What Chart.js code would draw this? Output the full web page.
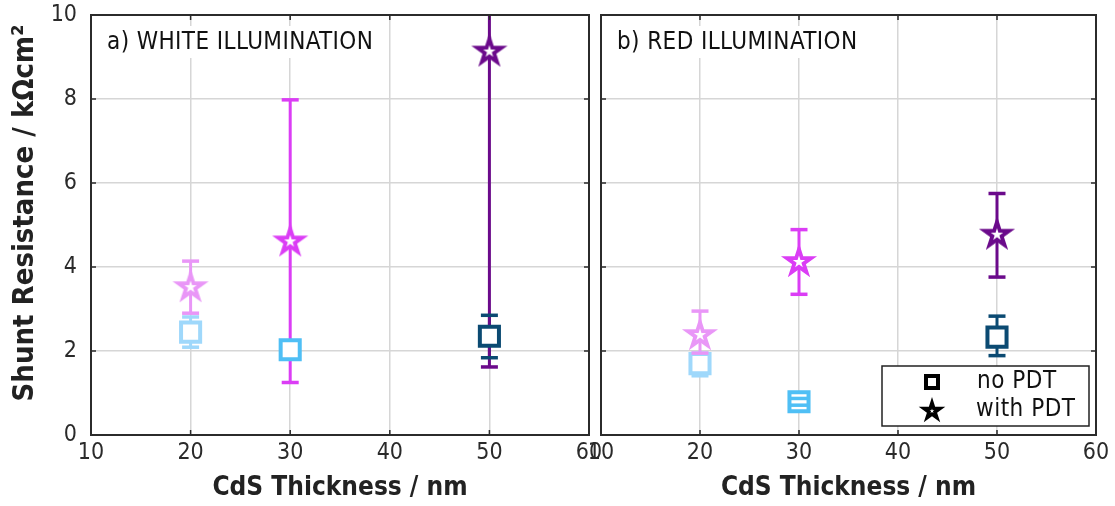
<!DOCTYPE html>
<html>
<head>
<meta charset="utf-8">
<script src="https://cdn.jsdelivr.net/npm/chart.js@4.4.0/dist/chart.umd.min.js"></script>
<style>
body { margin: 0; background: #fff; }
#wrap { position: relative; width: 1115px; height: 506px; overflow: hidden; }
#chartA { position: absolute; left: 0; top: -4px; }
#chartB { position: absolute; left: 580px; top: -4px; }
</style>
</head>
<body>
<div id="wrap">
<canvas id="chartA" width="610" height="510"></canvas>
<canvas id="chartB" width="535" height="510"></canvas>
</div>
<script>
// CdS thickness (nm) for the three samples
var thickness = [20, 30, 50];
var xTicks = [10, 20, 30, 40, 50, 60];
var yTicks = [0, 2, 4, 6, 8, 10];

// a) white illumination
var whiteNoPdt = [2.45, 2.03, 2.35];
var whiteNoPdtLow = [2.09, null, 1.84];
var whiteNoPdtHigh = [2.81, null, 2.85];
var whitePdt = [3.52, 4.61, 9.13];
var whitePdtLow = [2.90, 1.25, 1.62];
var whitePdtHigh = [4.14, 7.98, 12.0];

// b) red illumination
var redNoPdt = [1.70, 0.79, 2.33];
var redNoPdtLow = [1.41, 0.71, 1.89];
var redNoPdtHigh = [1.95, 0.87, 2.83];
var redPdt = [2.38, 4.12, 4.77];
var redPdtLow = [1.95, 3.35, 3.76];
var redPdtHigh = [2.95, 4.89, 5.75];

var squareColors = ["#9fd8fb", "#4fbff5", "#0b4a72"];
var starColors = ["#e996f7", "#db3df5", "#6b0a8b"];

var tickFont = "'Liberation Sans Narrow', 'DejaVu Sans Condensed', sans-serif";
var titleFont = "'DejaVu Sans Condensed', 'DejaVu Sans', sans-serif";
var yTitle = "Shunt Resistance / k\u03A9cm\u00B2";

function starPath(g, cx, cy, R) {
    g.beginPath();
    for (var i = 0; i < 10; i++) {
        var rad = (i % 2 === 0) ? R : R * 0.382;
        var a = -Math.PI / 2 + i * Math.PI / 5;
        var px = cx + rad * Math.cos(a), py = cy + rad * Math.sin(a);
        if (i === 0) { g.moveTo(px, py); } else { g.lineTo(px, py); }
    }
    g.closePath();
}

function makeStar(color, R, innerR) {
    var size = Math.ceil(R * 2 + 2);
    var c = document.createElement("canvas");
    c.width = size;
    c.height = size;
    var g = c.getContext("2d");
    starPath(g, size / 2, size / 2, R);
    g.fillStyle = color;
    g.fill();
    starPath(g, size / 2, size / 2, innerR);
    g.fillStyle = "#ffffff";
    g.fill();
    return c;
}

var starImages = starColors.map(function (c) { return makeStar(c, 19, 6.5); });

var errorBars = {
    id: "errorBars",
    beforeDatasetsDraw: function (chart) {
        var ctx = chart.ctx, area = chart.chartArea;
        var xs = chart.scales.x, ys = chart.scales.y;
        ctx.save();
        ctx.beginPath();
        ctx.rect(area.left, area.top, area.right - area.left, area.bottom - area.top);
        ctx.clip();
        chart.data.datasets.forEach(function (ds) {
            for (var j = 0; j < ds.data.length; j++) {
                if (ds.errLow[j] === null) continue;
                var x = xs.getPixelForValue(thickness[j]);
                ctx.strokeStyle = ds.barColors[j];
                ctx.lineWidth = 3;
                ctx.beginPath();
                ctx.moveTo(x, ys.getPixelForValue(ds.errLow[j]));
                ctx.lineTo(x, ys.getPixelForValue(ds.errHigh[j]));
                ctx.stroke();
            }
        });
        ctx.restore();
    },
    afterDatasetsDraw: function (chart) {
        var ctx = chart.ctx, area = chart.chartArea;
        var xs = chart.scales.x, ys = chart.scales.y;
        ctx.save();
        chart.data.datasets.forEach(function (ds) {
            for (var j = 0; j < ds.data.length; j++) {
                if (ds.errLow[j] === null) continue;
                var x = xs.getPixelForValue(thickness[j]);
                ctx.strokeStyle = ds.barColors[j];
                ctx.lineWidth = 3.5;
                [ds.errLow[j], ds.errHigh[j]].forEach(function (v) {
                    var y = ys.getPixelForValue(v);
                    if (y < area.top || y > area.bottom) return;
                    ctx.beginPath();
                    ctx.moveTo(x - 8.5, y);
                    ctx.lineTo(x + 8.5, y);
                    ctx.stroke();
                });
            }
        });
        ctx.restore();
    }
};

var frame = {
    id: "frame",
    afterDraw: function (chart) {
        var ctx = chart.ctx, a = chart.chartArea;
        var xs = chart.scales.x, ys = chart.scales.y;
        ctx.save();
        ctx.strokeStyle = "#2b2b2b";
        ctx.lineWidth = 1.5;
        xTicks.forEach(function (v) {
            var x = xs.getPixelForValue(v);
            ctx.beginPath();
            ctx.moveTo(x, a.bottom); ctx.lineTo(x, a.bottom - 5);
            ctx.moveTo(x, a.top); ctx.lineTo(x, a.top + 5);
            ctx.stroke();
        });
        yTicks.forEach(function (v) {
            var y = ys.getPixelForValue(v);
            ctx.beginPath();
            ctx.moveTo(a.left, y); ctx.lineTo(a.left + 5, y);
            ctx.moveTo(a.right, y); ctx.lineTo(a.right - 5, y);
            ctx.stroke();
        });
        ctx.lineWidth = 2;
        ctx.strokeRect(a.left, a.top, a.right - a.left, a.bottom - a.top);

        // panel label with white background
        var label = chart.options.plugins.panelLabel;
        ctx.font = "24px " + tickFont;
        ctx.letterSpacing = "0.4px";
        var w = ctx.measureText(label).width;
        ctx.fillStyle = "#ffffff";
        ctx.fillRect(a.left + 12, a.top + 11, w + 10, 32);
        ctx.fillStyle = "#111111";
        ctx.textBaseline = "middle";
        ctx.textAlign = "left";
        ctx.fillText(label, a.left + 16, a.top + 28);

        // y axis title (left panel only)
        if (chart.options.plugins.showYTitle) {
            ctx.letterSpacing = "0px";
            ctx.font = "bold 29px " + titleFont;
            ctx.fillStyle = "#222222";
            ctx.textAlign = "center";
            ctx.textBaseline = "middle";
            ctx.translate(25, a.top + 198);
            ctx.rotate(-Math.PI / 2);
            ctx.fillText(yTitle, 0, 0);
        }
        ctx.restore();
    }
};

var pdtLegend = {
    id: "pdtLegend",
    afterDraw: function (chart) {
        if (!chart.options.plugins.showPdtLegend) return;
        var ctx = chart.ctx, a = chart.chartArea;
        var bx = a.right - 214, by = a.bottom - 69, bw = 207, bh = 60;
        ctx.save();
        ctx.fillStyle = "#ffffff";
        ctx.fillRect(bx, by, bw, bh);
        ctx.strokeStyle = "#222222";
        ctx.lineWidth = 1.5;
        ctx.strokeRect(bx, by, bw, bh);
        // square marker
        ctx.strokeStyle = "#000000";
        ctx.lineWidth = 4;
        ctx.strokeRect(bx + 50 - 6, by + 16 - 6, 12, 12);
        // star marker
        var st = makeStar("#000000", 14, 2.5);
        ctx.drawImage(st, bx + 50 - st.width / 2, by + 45 - st.height / 2);
        ctx.fillStyle = "#111111";
        ctx.font = "24px " + tickFont;
        ctx.letterSpacing = "0.5px";
        ctx.textBaseline = "middle";
        ctx.textAlign = "left";
        ctx.fillText("no PDT", bx + 95, by + 16);
        ctx.fillText("with PDT", bx + 94, by + 44);
        ctx.restore();
    }
};

function makePanel(canvasId, label, noPdt, noLow, noHigh, pdt, pLow, pHigh, isLeft) {
    var ctx = document.getElementById(canvasId);
    return new Chart(ctx, {
        type: "scatter",
        data: {
            datasets: [{
                label: "no PDT",
                data: thickness.map(function (t, i) { return { x: t, y: noPdt[i] }; }),
                errLow: noLow,
                errHigh: noHigh,
                barColors: squareColors,
                pointStyle: "rect",
                pointRadius: 13.5,
                pointHoverRadius: 13.5,
                pointBorderWidth: 4,
                pointBorderColor: squareColors,
                pointBackgroundColor: "#ffffff"
            }, {
                label: "with PDT",
                data: thickness.map(function (t, i) { return { x: t, y: pdt[i] }; }),
                errLow: pLow,
                errHigh: pHigh,
                barColors: starColors,
                pointStyle: starImages,
                pointRadius: 19,
                pointHoverRadius: 19,
                pointBorderWidth: 0
            }]
        },
        options: {
            responsive: false,
            animation: false,
            events: [],
            layout: { padding: { top: 14, right: isLeft ? 21 : 16, left: 0, bottom: 0 } },
            plugins: {
                legend: { display: false },
                tooltip: { enabled: false },
                panelLabel: label,
                showPdtLegend: !isLeft,
                showYTitle: isLeft
            },
            scales: {
                x: {
                    type: "linear",
                    min: 10,
                    max: 60,
                    afterBuildTicks: function (s) { s.ticks = xTicks.map(function (v) { return { value: v }; }); },
                    afterFit: function (s) { s.height = 71; },
                    grid: { color: "#d6d6d6", lineWidth: 1.5, drawTicks: false },
                    border: { display: false },
                    ticks: { color: "#2a2a2a", padding: 4, maxRotation: 0, autoSkip: false, font: { family: tickFont, size: 23 } },
                    title: {
                        display: true,
                        text: "CdS Thickness / nm",
                        color: "#222222",
                        padding: { top: 2, bottom: 2 },
                        font: { family: titleFont, size: 26, weight: "bold" }
                    }
                },
                y: {
                    min: 0,
                    max: 10,
                    afterBuildTicks: function (s) { s.ticks = yTicks.map(function (v) { return { value: v }; }); },
                    afterFit: function (s) {
                        s.width = isLeft ? 91 : 21;
                        s.paddingTop = 0;
                        s.paddingBottom = 0;
                    },
                    grid: { color: "#d6d6d6", lineWidth: 1.5, drawTicks: false },
                    border: { display: false },
                    ticks: { display: isLeft, color: "#2a2a2a", padding: 14, font: { family: tickFont, size: 23 } }
                }
            }
        },
        plugins: [errorBars, frame, pdtLegend]
    });
}

makePanel("chartA", "a) WHITE ILLUMINATION", whiteNoPdt, whiteNoPdtLow, whiteNoPdtHigh,
    whitePdt, whitePdtLow, whitePdtHigh, true);
makePanel("chartB", "b) RED ILLUMINATION", redNoPdt, redNoPdtLow, redNoPdtHigh,
    redPdt, redPdtLow, redPdtHigh, false);
</script>
</body>
</html>
